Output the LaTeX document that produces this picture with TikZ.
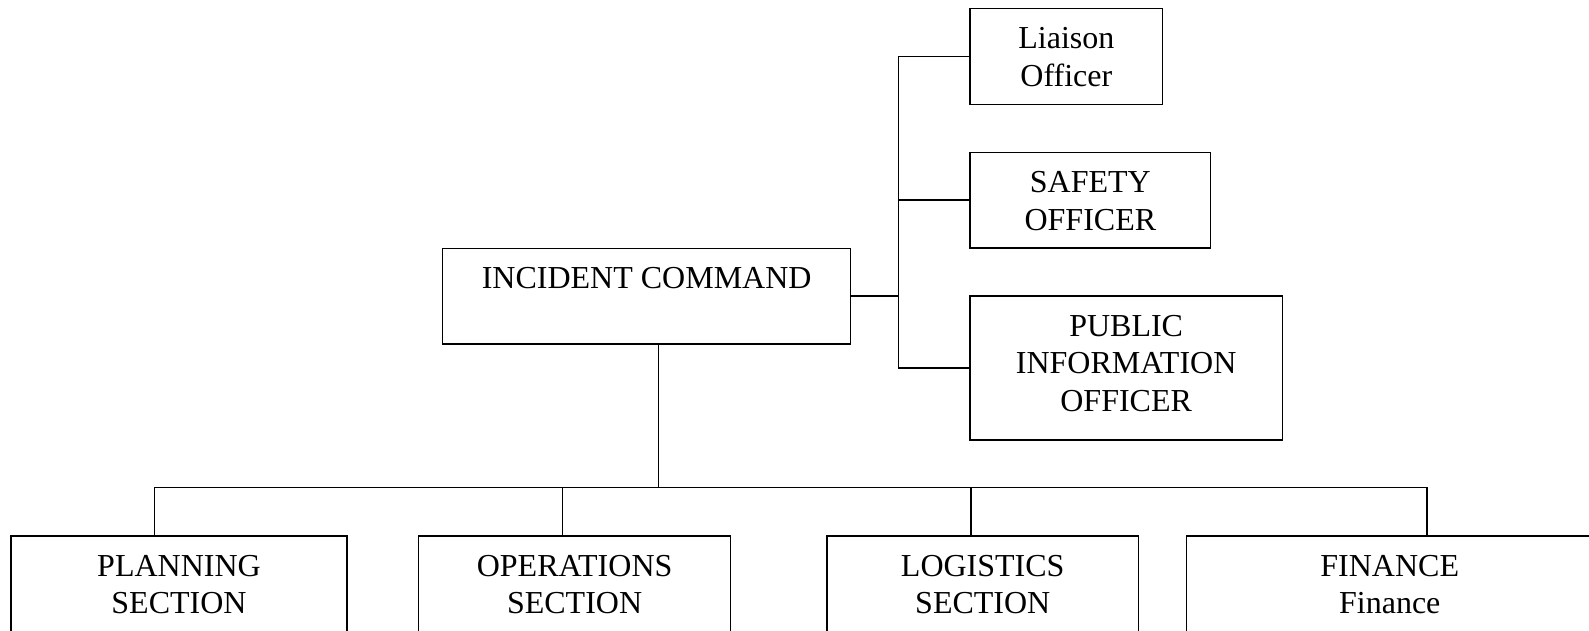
\documentclass[tikz,border=0pt]{standalone}
\usepackage{fontspec}
\setmainfont{Liberation Serif}
\begin{document}
\begin{tikzpicture}[x=1pt,y=-1pt,
  box/.style={draw,rectangle,line width=1.5pt,inner sep=0pt},
  txt/.style={anchor=north,inner sep=0pt,align=center,yshift=-19.8pt,
    font=\fontsize{32}{37.4}\selectfont},
  conn/.style={line width=1.5pt}]
\useasboundingbox (0,0) rectangle (1589,631);
\clip (0,0) rectangle (1589,631);
% boxes
\node[box,minimum width=192.7pt,minimum height=96pt] (li) at (1066.35,56.3) {};
\node[box,minimum width=240.7pt,minimum height=95.7pt] (sa) at (1090.35,200.15) {};
\node[box,minimum width=312.3pt,minimum height=144pt] (pi) at (1126.15,368) {};
\node[box,minimum width=408pt,minimum height=95.7pt] (ic) at (646.7,296.15) {};
\node[box,minimum width=336pt,minimum height=150pt] (pl) at (179,611) {};
\node[box,minimum width=312.2pt,minimum height=150pt] (op) at (574.6,611) {};
\node[box,minimum width=311.5pt,minimum height=150pt] (lo) at (982.75,611) {};
\node[box,minimum width=406.5pt,minimum height=150pt] (fi) at (1389.75,611) {};
% texts
\node[txt] (lit) at (li.north) {Liaison\\Officer};
\node[txt] (sat) at (sa.north) {SAFETY\\OFFICER};
\node[txt] (pit) at (pi.north) {PUBLIC\\INFORMATION\\OFFICER};
\node[txt] (ict) at (ic.north) {INCIDENT COMMAND};
\node[txt] (plt) at (pl.north) {PLANNING\\SECTION};
\node[txt] (opt) at (op.north) {OPERATIONS\\SECTION};
\node[txt] (lot) at (lo.north) {LOGISTICS\\SECTION};
\node[txt] (fit) at (fi.north) {FINANCE\\Finance};
% right-hand connectors
\coordinate (rb) at (898.7,296.15);
\draw[conn] (ic.east) -- (rb);
\draw[conn] (li.west) -| (rb);
\draw[conn] (pi.west) -| (rb);
\draw[conn] (sa.west) -- (sa.west -| rb);
% lower connectors
\coordinate (bb) at (658.3,487.7);
\draw[conn] ([xshift=11.6pt]ic.south) -- (bb);
\draw[conn] ([xshift=-24.4pt]pl.north) -- ([xshift=-24.4pt]pl.north |- bb)
  -- ([xshift=37pt]fi.north |- bb) -- ([xshift=37pt]fi.north);
\draw[conn] ([xshift=-12pt]op.north) -- ([xshift=-12pt]op.north |- bb);
\draw[conn] ([xshift=-11.7pt]lo.north) -- ([xshift=-11.7pt]lo.north |- bb);
\end{tikzpicture}
\end{document}
